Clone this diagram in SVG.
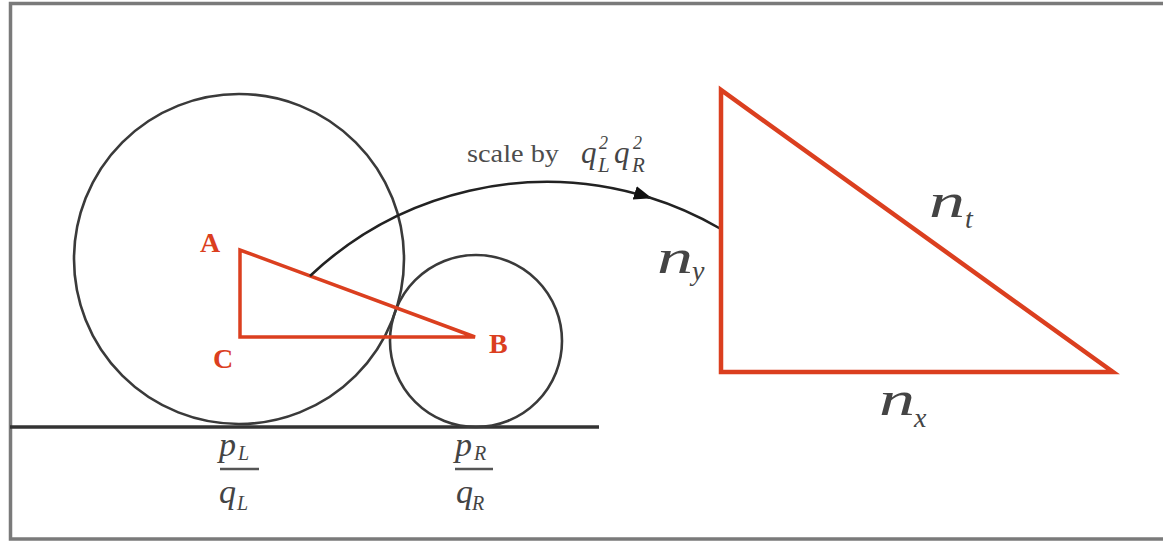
<svg xmlns="http://www.w3.org/2000/svg" width="1163" height="541" viewBox="0 0 1163 541">
<style>
.frame{fill:none;stroke:#7a7a7a;stroke-width:3.5}
.circ{fill:none;stroke:#3a3a3a;stroke-width:2.6}
.ground{stroke:#333;stroke-width:3.5}
.tri{fill:none;stroke:#DB3F1F;stroke-linejoin:miter}
.lbl{font-family:"Liberation Serif",serif;font-weight:bold;font-size:28px;fill:#DB3F1F}
.math{font-family:"Liberation Serif",serif;font-style:italic;fill:#444}
.frac{stroke:#555;stroke-width:2.5}
.conn{fill:none;stroke:#222;stroke-width:2.6}
.cap{font-family:"Liberation Serif",serif;font-size:25px;fill:#4d4d4d}
</style>
<defs>
<marker id="arr" markerUnits="userSpaceOnUse" markerWidth="22" markerHeight="16" refX="16" refY="7" orient="auto">
<path d="M0,0 L18,7 L0,14 z" fill="#111"/>
</marker>
</defs>
<rect class="frame" x="10.5" y="3.5" width="1200" height="535.5"/>
<g id="ground"><line class="ground" x1="10" y1="427" x2="599" y2="427"/></g>
<g id="circle-left"><circle class="circ" cx="239" cy="259" r="165"/></g>
<g id="circle-right"><circle class="circ" cx="476" cy="341" r="86"/></g>
<g id="triangle-abc">
<polygon class="tri" stroke-width="3.5" points="240,250 240,337 475,337"/>
<text class="lbl" x="200" y="252">A</text>
<text class="lbl" x="489" y="353">B</text>
<text class="lbl" x="213" y="368">C</text>
</g>
<g id="connectors">
<path class="conn" d="M310,276 A345,345 0 0 1 650,197.7" marker-end="url(#arr)"/>
<path class="conn" d="M648,197 A345,345 0 0 1 720,228.5"/>
</g>
<g id="scale-label">
<text class="cap" x="467" y="162" textLength="92" lengthAdjust="spacingAndGlyphs">scale by</text>
<text class="math" x="581" y="163" font-size="31">q</text>
<text class="math" x="599" y="149" font-size="18">2</text>
<text class="math" x="598" y="172" font-size="21">L</text>
<text class="math" x="614" y="163" font-size="31">q</text>
<text class="math" x="633" y="149" font-size="18">2</text>
<text class="math" x="632" y="172" font-size="21">R</text>
</g>
<g id="triangle-big">
<polygon class="tri" stroke-width="4.5" points="721,90 721,372 1113,372"/>
<text class="math" x="657" y="273" font-size="48" textLength="36" lengthAdjust="spacingAndGlyphs">n</text>
<text class="math" x="692" y="280" font-size="28">y</text>
<text class="math" x="929" y="217" font-size="48" textLength="36" lengthAdjust="spacingAndGlyphs">n</text>
<text class="math" x="965" y="228" font-size="28">t</text>
<text class="math" x="879" y="415" font-size="48" textLength="36" lengthAdjust="spacingAndGlyphs">n</text>
<text class="math" x="914" y="427" font-size="28">x</text>
</g>
<g id="label-pl">
<text class="math" x="219" y="456" font-size="34">p</text>
<text class="math" x="238" y="460" font-size="20">L</text>
<line class="frac" x1="220" y1="469" x2="259" y2="469"/>
<text class="math" x="219" y="503" font-size="34">q</text>
<text class="math" x="237" y="510" font-size="20">L</text>
</g>
<g id="label-pr">
<text class="math" x="455" y="456" font-size="34">p</text>
<text class="math" x="474" y="460" font-size="20">R</text>
<line class="frac" x1="455" y1="469" x2="493" y2="469"/>
<text class="math" x="456" y="503" font-size="34">q</text>
<text class="math" x="472" y="510" font-size="20">R</text>
</g>
</svg>
